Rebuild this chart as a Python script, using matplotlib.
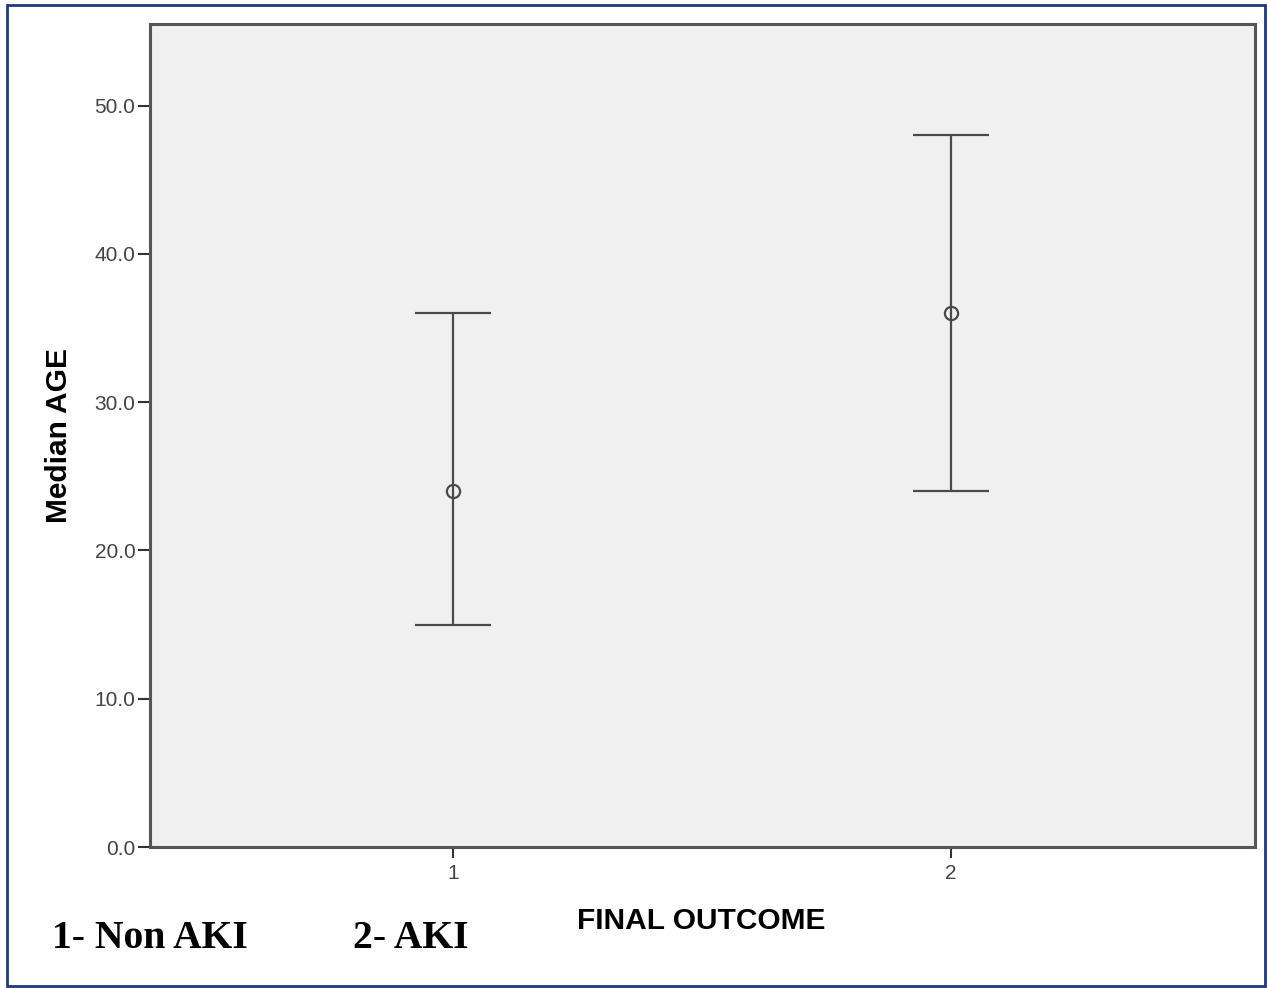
import numpy as np
import matplotlib.pyplot as plt
from matplotlib.patches import Rectangle

# data
groups = [1, 2]
group_labels = ["1", "2"]
medians = [24.0, 36.0]
lower = [15.0, 24.0]
upper = [36.0, 48.0]
y_ticks = [0, 10, 20, 30, 40, 50]

fig = plt.figure(figsize=(12.68, 9.88), dpi=100)
ax = fig.add_axes([0.1183, 0.1427, 0.8714, 0.833])
ax.set_facecolor('#f0f0f0')

med = np.array(medians)
yerr = [med - np.array(lower), np.array(upper) - med]
ax.errorbar(groups, medians, yerr=yerr, fmt='o', color='#4a4a4a',
            mfc='none', mec='#4a4a4a', ms=9.5, mew=1.6,
            elinewidth=1.6, capsize=27.5, capthick=1.6)

ax.set_xlim(0.392, 2.61)
ax.set_ylim(0, 55.5)
ax.set_xticks(groups)
ax.set_xticklabels(group_labels)
ax.set_yticks(y_ticks)
ax.set_yticklabels(["%.1f" % v for v in y_ticks])

for s in ax.spines.values():
    s.set_color('#555555')
    s.set_linewidth(2.2)

ax.tick_params(axis='y', direction='out', length=9, width=1.5, color='#333333',
               pad=1.5, labelsize=15, labelcolor='#444444')
ax.tick_params(axis='x', direction='out', length=8, width=1.5, color='#333333',
               pad=4, labelsize=15, labelcolor='#444444')
for lab in ax.get_xticklabels() + ax.get_yticklabels():
    lab.set_family('Liberation Sans')

ax.set_ylabel('Median AGE', fontsize=21.5, fontweight='bold',
              family='Liberation Sans')
ax.yaxis.set_label_coords(-0.070, 0.5)

fig.text(577 / 1268, 1 - 921 / 988, 'FINAL OUTCOME', fontsize=21.5,
         fontweight='bold', family='Liberation Sans', va='center', ha='left')
fig.text(52 / 1268, 1 - 948 / 988, '1- Non AKI', fontsize=28.5,
         fontweight='bold', family='Liberation Serif', va='baseline', ha='left')
fig.text(353 / 1268, 1 - 948 / 988, '2- AKI', fontsize=28.5,
         fontweight='bold', family='Liberation Serif', va='baseline', ha='left')

# outer frame round the picture
fig.patches.append(Rectangle((7 / 1268, 2 / 988), 1258 / 1268, 981 / 988,
                             transform=fig.transFigure, fill=False,
                             edgecolor='#1f3a78', linewidth=2))

fig.savefig('out.png', dpi=100)
